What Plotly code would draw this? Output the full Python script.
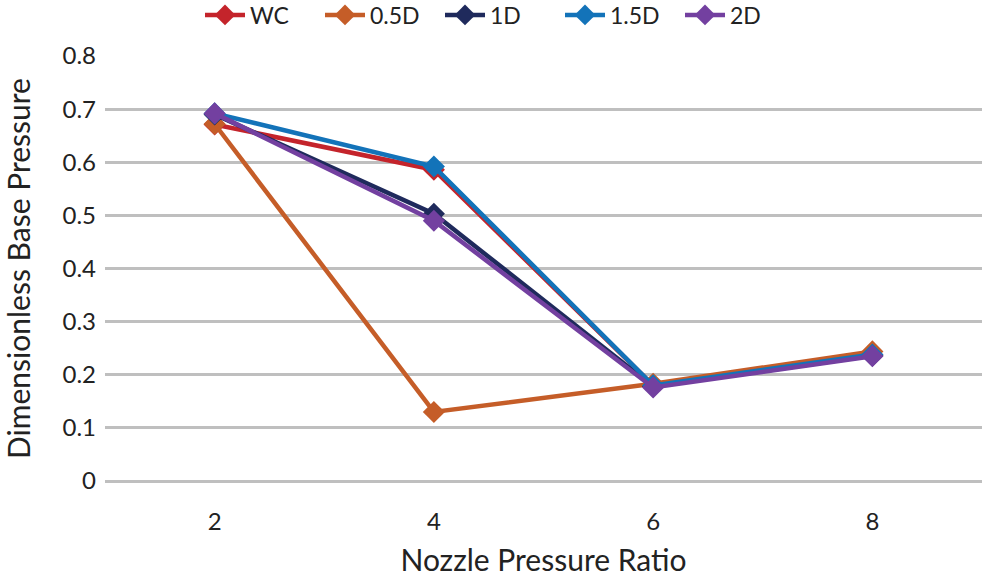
import plotly.graph_objects as go

categories = ["2", "4", "6", "8"]
series_names = ["WC", "0.5D", "1D", "1.5D", "2D"]
wc = [0.671, 0.586, 0.180, 0.237]
d05 = [0.672, 0.130, 0.183, 0.244]
d1 = [0.690, 0.503, 0.178, 0.236]
d15 = [0.692, 0.592, 0.180, 0.238]
d2 = [0.692, 0.490, 0.176, 0.235]
y_ticks = [0, 0.1, 0.2, 0.3, 0.4, 0.5, 0.6, 0.7, 0.8]
y_tick_labels = ["0", "0.1", "0.2", "0.3", "0.4", "0.5", "0.6", "0.7", "0.8"]

colors = ["#C4242B", "#C55D28", "#1F2A5C", "#1373B9", "#7340A0"]
values = [wc, d05, d1, d15, d2]

fig = go.Figure()
for name, vals, col in zip(series_names, values, colors):
    fig.add_trace(go.Scatter(
        x=categories, y=vals, name=name, mode="lines+markers",
        line=dict(color=col, width=4.5),
        marker=dict(symbol="diamond", size=17, color=col),
    ))

font_family = "Lato, Open Sans, sans-serif"
fig.update_layout(
    width=985, height=577,
    margin=dict(l=105, r=3, t=56, b=96, autoexpand=False),
    paper_bgcolor="white", plot_bgcolor="white",
    font=dict(family=font_family, size=24, color="#222222"),
    showlegend=True,
    legend=dict(orientation="h", x=(200 - 105) / 877, xanchor="left", y=1.0965, yanchor="middle",
                font=dict(size=23), itemwidth=40, tracegroupgap=0,
                entrywidth=65, entrywidthmode="pixels",
                bgcolor="rgba(0,0,0,0)"),
    xaxis=dict(type="category", range=[-0.5, 3.5], showgrid=False, showline=False,
               ticks="", tickfont=dict(size=24), automargin=False, ticklabelstandoff=24,
               title=dict(text="Nozzle Pressure Ratio", font=dict(size=30), standoff=18)),
    yaxis=dict(range=[0, 0.8], tickvals=y_ticks, ticktext=y_tick_labels,
               showgrid=True, gridcolor="#BFBFBF", gridwidth=2.5,
               zeroline=True, zerolinecolor="#BFBFBF", zerolinewidth=2.5,
               showline=False, ticks="", ticklabelstandoff=8,
               tickfont=dict(size=24), automargin=False,
               title=dict(text="Dimensionless Base Pressure", font=dict(size=30), standoff=24)),
)

fig.write_html("out.html", config={"displayModeBar": False},
               post_script="document.body.style.margin='0';")
